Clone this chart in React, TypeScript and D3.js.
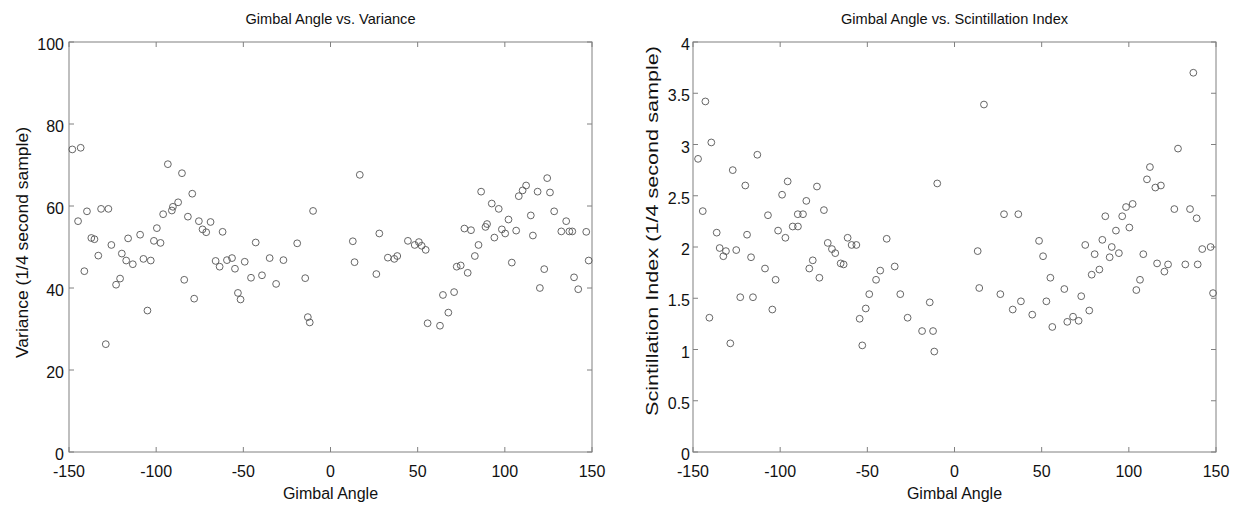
import React from "react";
import * as d3 from "d3";

const xTicks = [-150, -100, -50, 0, 50, 100, 150];
const xTickLabels = ["-150", "-100", "-50", "0", "50", "100", "150"];
const varTicks = [0, 20, 40, 60, 80, 100];
const varTickLabels = ["0", "20", "40", "60", "80", "100"];
const sciTicks = [0, 0.5, 1, 1.5, 2, 2.5, 3, 3.5, 4];
const sciTickLabels = ["0", "0.5", "1", "1.5", "2", "2.5", "3", "3.5", "4"];

const varAngle = [
  -148.1, -143.3, -144.8, -141.2, -139.7, -137.2, -135.4, -133.2, -131.6, -128.9,
  -127.4, -125.7, -123.0, -120.7, -119.7, -117.2, -116.1, -113.4, -109.2, -107.3,
  -105.0, -103.1, -101.3, -99.6, -97.5, -96.0, -93.3, -91.0, -90.4, -87.4,
  -85.2, -83.9, -81.8, -79.3, -78.2, -75.5, -73.4, -71.3, -68.8, -65.9,
  -63.6, -61.9, -59.4, -56.5, -54.8, -53.1, -51.6, -49.2, -45.6, -42.9,
  -39.3, -34.9, -31.2, -27.0, -19.1, -14.5, -13.0, -11.9, -10.0, 12.8,
  13.8, 16.8, 26.3, 28.0, 32.9, 36.6, 38.3, 44.4, 48.3, 50.7,
  52.3, 54.6, 55.7, 62.8, 64.5, 67.6, 70.9, 72.4, 74.7, 76.8,
  78.7, 80.6, 82.8, 84.9, 86.4, 88.9, 89.8, 92.5, 94.0, 96.5,
  98.3, 100.2, 102.1, 104.0, 106.5, 108.0, 110.2, 112.2, 114.9, 116.1,
  118.8, 120.1, 122.6, 124.3, 125.9, 128.3, 132.4, 135.2, 137.0, 138.7,
  139.7, 142.1, 146.7, 148.1,
];
const varValue = [
  73.8, 74.2, 56.3, 44.1, 58.7, 52.2, 51.9, 47.9, 59.3, 26.3,
  59.3, 50.5, 40.8, 42.3, 48.4, 46.7, 52.1, 45.8, 53.0, 47.1,
  34.5, 46.7, 51.5, 54.6, 51.0, 58.0, 70.2, 58.9, 59.8, 60.9,
  68.0, 42.0, 57.4, 63.0, 37.4, 56.3, 54.3, 53.6, 56.1, 46.6,
  45.2, 53.7, 46.8, 47.3, 44.7, 38.8, 37.2, 46.4, 42.5, 51.1,
  43.1, 47.3, 41.0, 46.8, 50.9, 42.4, 32.9, 31.6, 58.8, 51.4,
  46.3, 67.6, 43.4, 53.3, 47.4, 47.1, 47.8, 51.5, 50.5, 51.2,
  50.3, 49.3, 31.4, 30.8, 38.3, 34.0, 39.0, 45.2, 45.5, 54.5,
  43.7, 54.1, 47.8, 50.5, 63.5, 54.9, 55.6, 60.6, 52.3, 59.3,
  54.3, 53.3, 56.7, 46.2, 54.0, 62.4, 63.8, 65.0, 57.7, 52.8,
  63.5, 40.0, 44.6, 66.8, 63.3, 58.7, 53.8, 56.3, 53.8, 53.8,
  42.6, 39.7, 53.7, 46.7,
];

const sciAngle = [
  -147.1, -144.4, -142.9, -140.6, -139.5, -136.4, -134.7, -132.6, -131.1, -128.6,
  -127.2, -125.2, -122.9, -120.0, -119.0, -116.7, -115.6, -113.1, -108.7, -107.0,
  -104.5, -102.6, -101.2, -98.9, -97.0, -95.7, -92.8, -89.9, -89.8, -86.9,
  -85.0, -83.3, -81.3, -78.9, -77.5, -74.9, -72.7, -70.3, -68.4, -65.3,
  -63.6, -61.3, -59.0, -56.3, -54.4, -52.9, -50.9, -48.9, -45.0, -42.6,
  -38.9, -34.3, -31.1, -26.9, -18.6, -14.2, -12.3, -11.6, -9.9, 13.3,
  14.2, 16.9, 26.3, 28.4, 33.4, 36.6, 38.1, 44.6, 48.5, 50.8,
  52.7, 55.0, 56.1, 63.0, 64.7, 68.0, 71.2, 72.7, 75.0, 77.3,
  78.7, 80.4, 83.1, 84.8, 86.5, 89.0, 90.2, 92.6, 94.3, 96.2,
  98.4, 100.3, 102.2, 104.3, 106.4, 108.3, 110.4, 112.1, 115.2, 116.2,
  118.4, 120.4, 122.5, 126.1, 128.2, 132.4, 135.1, 137.0, 138.9, 139.5,
  142.1, 146.9, 148.3,
];
const sciValue = [
  2.86, 2.35, 3.42, 1.31, 3.02, 2.14, 1.99, 1.91, 1.96, 1.06,
  2.75, 1.97, 1.51, 2.60, 2.12, 1.90, 1.51, 2.90, 1.79, 2.31,
  1.39, 1.68, 2.16, 2.51, 2.09, 2.64, 2.20, 2.32, 2.20, 2.32,
  2.45, 1.79, 1.87, 2.59, 1.70, 2.36, 2.04, 1.98, 1.94, 1.84,
  1.83, 2.09, 2.02, 2.02, 1.30, 1.04, 1.40, 1.54, 1.68, 1.77,
  2.08, 1.81, 1.54, 1.31, 1.18, 1.46, 1.18, 0.98, 2.62, 1.96,
  1.60, 3.39, 1.54, 2.32, 1.39, 2.32, 1.47, 1.34, 2.06, 1.91,
  1.47, 1.70, 1.22, 1.59, 1.27, 1.32, 1.28, 1.52, 2.02, 1.38,
  1.73, 1.93, 1.78, 2.07, 2.30, 1.90, 2.00, 2.16, 1.94, 2.30,
  2.39, 2.19, 2.42, 1.58, 1.68, 1.93, 2.66, 2.78, 2.58, 1.84,
  2.60, 1.76, 1.83, 2.37, 2.96, 1.83, 2.37, 3.70, 2.28, 1.83,
  1.98, 2.00, 1.55,
];

const FONT = "'Liberation Sans', Arial, Helvetica, sans-serif";
const AXIS_COLOR = "#808080";
const MARK_COLOR = "#555";

type PanelProps = {
  left: number;
  right: number;
  top: number;
  bottom: number;
  title: string;
  yLabel: string;
  yLabelX: number;
  yLabelY: number;
  yLabelLen: number;
  yTickGap: number;
  xs: number[];
  ys: number[];
  yDomain: [number, number];
  yTicks: number[];
  yTickLabels: string[];
};

function Panel(p: PanelProps) {
  const x = d3.scaleLinear().domain([-150, 150]).range([p.left, p.right]);
  const y = d3.scaleLinear().domain(p.yDomain).range([p.bottom, p.top]);
  const tl = 5;
  const cx = (p.left + p.right) / 2;
  return (
    <g>
      <rect
        x={p.left}
        y={p.top}
        width={p.right - p.left}
        height={p.bottom - p.top}
        fill="white"
        stroke={AXIS_COLOR}
        strokeWidth={1}
      />
      {xTicks.map((t, i) => (
        <g key={"xt" + i}>
          <line x1={x(t)} x2={x(t)} y1={p.bottom} y2={p.bottom - tl} stroke={AXIS_COLOR} />
          <line x1={x(t)} x2={x(t)} y1={p.top} y2={p.top + tl} stroke={AXIS_COLOR} />
          <text
            x={x(t)}
            y={p.bottom + 25}
            textAnchor="middle"
            fontSize={16}
            fontFamily={FONT}
            fill="#111"
          >
            {xTickLabels[i]}
          </text>
        </g>
      ))}
      {p.yTicks.map((t, i) => (
        <g key={"yt" + i}>
          <line x1={p.left} x2={p.left + tl} y1={y(t)} y2={y(t)} stroke={AXIS_COLOR} />
          <line x1={p.right} x2={p.right - tl} y1={y(t)} y2={y(t)} stroke={AXIS_COLOR} />
          <text
            x={p.left - p.yTickGap}
            y={y(t) + 8}
            textAnchor="end"
            fontSize={16}
            fontFamily={FONT}
            fill="#111"
          >
            {p.yTickLabels[i]}
          </text>
        </g>
      ))}
      {p.xs.map((a, i) => (
        <circle
          key={"pt" + i}
          cx={x(a)}
          cy={y(p.ys[i])}
          r={3.4}
          fill="none"
          stroke={MARK_COLOR}
          strokeWidth={0.9}
        />
      ))}
      <text x={cx} y={p.top - 18} textAnchor="middle" fontSize={14.6} fontFamily={FONT} fill="#111">
        {p.title}
      </text>
      <text x={cx} y={p.bottom + 47} textAnchor="middle" fontSize={16} fontFamily={FONT} fill="#111">
        Gimbal Angle
      </text>
      <text
        transform={`translate(${p.yLabelX},${p.yLabelY}) rotate(-90)`}
        textAnchor="middle"
        fontSize={17}
        fontFamily={FONT}
        fill="#111"
        textLength={p.yLabelLen}
        lengthAdjust="spacingAndGlyphs"
      >
        {p.yLabel}
      </text>
    </g>
  );
}

export default function App() {
  return (
    <svg
      width={1241}
      height={508}
      style={{ position: "absolute", left: 0, top: 0, background: "white" }}
    >
      <rect x={0} y={0} width={1241} height={508} fill="white" />
      <Panel
        left={69}
        right={592}
        top={42}
        bottom={452}
        title="Gimbal Angle vs. Variance"
        yLabel="Variance (1/4 second sample)"
        yLabelX={28}
        yLabelY={242.5}
        yLabelLen={231}
        yTickGap={5}
        xs={varAngle}
        ys={varValue}
        yDomain={[0, 100]}
        yTicks={varTicks}
        yTickLabels={varTickLabels}
      />
      <Panel
        left={693}
        right={1216}
        top={42}
        bottom={452}
        title="Gimbal Angle vs. Scintillation Index"
        yLabel="Scintillation Index (1/4 second sample)"
        yLabelX={658}
        yLabelY={231}
        yLabelLen={370}
        yTickGap={3}
        xs={sciAngle}
        ys={sciValue}
        yDomain={[0, 4]}
        yTicks={sciTicks}
        yTickLabels={sciTickLabels}
      />
    </svg>
  );
}
